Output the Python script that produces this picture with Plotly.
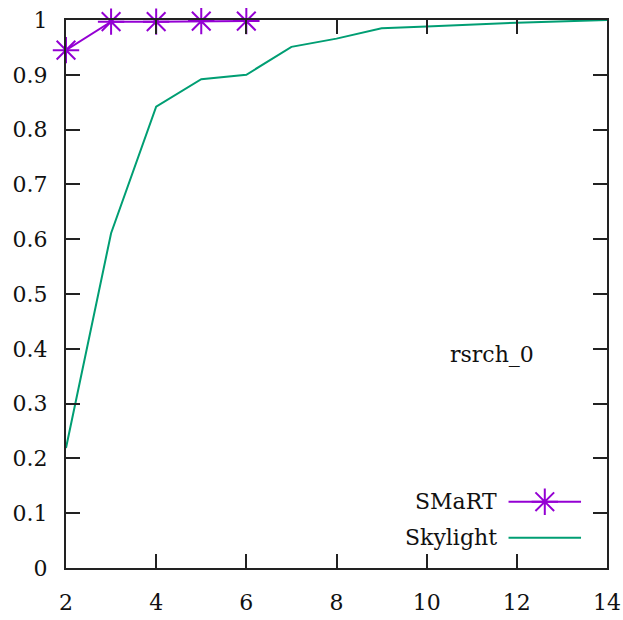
import plotly.graph_objects as go

# Cumulative fraction curves for trace rsrch_0
smart_x = [2, 3, 4, 5, 6]
smart_y = [0.945, 0.997, 0.997, 0.998, 0.998]

skylight_x = [2, 3, 4, 5, 6, 7, 8, 9, 10, 12, 14]
skylight_y = [0.219, 0.611, 0.842, 0.892, 0.900, 0.951, 0.966, 0.985, 0.988, 0.995, 1.0]

x_ticks = [2, 4, 6, 8, 10, 12, 14]
y_ticks = [0, 0.1, 0.2, 0.3, 0.4, 0.5, 0.6, 0.7, 0.8, 0.9, 1]
y_ticktext = ["0", "0.1", "0.2", "0.3", "0.4", "0.5", "0.6", "0.7", "0.8", "0.9", "1"]

PURPLE = "#9400d3"
GREEN = "#009e73"
FONT = "'DejaVu Serif', serif"
FSIZE = 22

fig = go.Figure()

fig.add_trace(go.Scatter(
    x=skylight_x, y=skylight_y, mode="lines",
    line=dict(color=GREEN, width=2), cliponaxis=False, showlegend=False,
))
fig.add_trace(go.Scatter(
    x=smart_x, y=smart_y, mode="lines+markers",
    line=dict(color=PURPLE, width=2),
    marker=dict(symbol="asterisk-open", size=22, color=PURPLE,
                line=dict(color=PURPLE, width=2)),
    cliponaxis=False, showlegend=False,
))

# Legend key drawn on an overlay axis in plot-fraction units
fig.add_trace(go.Scatter(
    x=[0.885], y=[0.121], mode="markers", xaxis="x2", yaxis="y2",
    marker=dict(symbol="asterisk-open", size=22, color=PURPLE,
                line=dict(color=PURPLE, width=2)),
    cliponaxis=False, showlegend=False, hoverinfo="skip",
))

axis_common = dict(
    showgrid=False, zeroline=False, showline=True, mirror="ticks",
    linecolor="#222222", linewidth=2, ticks="inside", ticklen=14,
    tickwidth=1.5, tickcolor="#222222", automargin=False,
    tickfont=dict(family=FONT, size=FSIZE, color="#111111"),
)

fig.update_layout(
    width=623, height=620,
    margin=dict(l=66, r=16, t=20, b=52),
    paper_bgcolor="white", plot_bgcolor="white",
    font=dict(family=FONT),
    xaxis=dict(range=[2, 14], tickvals=x_ticks, ticklabelstandoff=14, **axis_common),
    yaxis=dict(range=[0, 1], tickvals=y_ticks, ticktext=y_ticktext, ticklabelstandoff=12, **axis_common),
    xaxis2=dict(range=[0, 1], overlaying="x", visible=False, fixedrange=True),
    yaxis2=dict(range=[0, 1], overlaying="y", visible=False, fixedrange=True),
    shapes=[
        dict(type="line", xref="paper", yref="paper", x0=0.818, x1=0.952, y0=0.121, y1=0.121,
             line=dict(color=PURPLE, width=2)),
        dict(type="line", xref="paper", yref="paper", x0=0.818, x1=0.952, y0=0.055, y1=0.055,
             line=dict(color=GREEN, width=2)),
    ],
    annotations=[
        dict(text="rsrch_0", x=11.45, y=0.39, xref="x", yref="y", showarrow=False,
             yanchor="middle", font=dict(family=FONT, size=FSIZE, color="#111111")),
        dict(text="SMaRT", x=0.80, y=0.121, xref="paper", yref="paper", xanchor="right",
             yanchor="middle", showarrow=False, font=dict(family=FONT, size=FSIZE, color="#111111")),
        dict(text="Skylight", x=0.80, y=0.055, xref="paper", yref="paper", xanchor="right",
             yanchor="middle", showarrow=False, font=dict(family=FONT, size=FSIZE, color="#111111")),
    ],
)

fig.write_html("out.html")
